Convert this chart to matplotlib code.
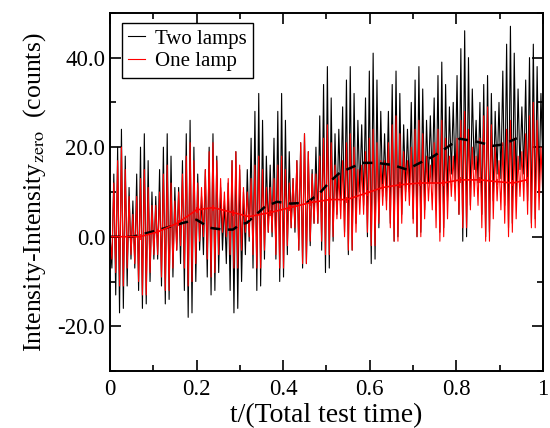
import matplotlib
matplotlib.use('Agg')
import matplotlib.pyplot as plt
from matplotlib.ticker import MultipleLocator, FuncFormatter
import numpy as np

plt.rcParams['font.family'] = ['Liberation Serif', 'DejaVu Serif']
plt.rcParams['mathtext.fontset'] = 'stix'

# raw signal, two lamps (one row per beat group)
two_lamps = [
    0, -7, 14, -13, 20, -17, 24, -16, 18, -11, 11, -5,
    8, -7, 14, -12, 20, -16, 23, -15, 17, -10, 10, -5,
    9, -5, 15, -11, 20, -15, 23, -14, 18, -9, 11, -3,
    11, -6, 17, -12, 23, -18, 26, -17, 20, -10, 14, -3,
    9, -4, 15, -9, 20, -13, 23, -12, 18, -8, 11, -3,
    8, -6, 12, -12, 17, -17, 19, -16, 15, -10, 10, -4,
    15, -1, 22, -7, 28, -12, 32, -11, 26, -5, 18, 1,
    16, 0, 22, -5, 28, -10, 32, -9, 26, -4, 19, 2,
    13, 1, 17, -3, 21, -7, 23, -6, 19, -2, 15, 3,
    20, 3, 27, -3, 34, -8, 38, -7, 31, -1, 23, 5,
    24, 8, 29, 1, 35, -4, 38, -3, 32, 3, 26, 10,
    25, 7, 31, 0, 37, -6, 41, -5, 35, 2, 28, 9,
    23, 8, 28, 3, 34, -1, 37, 0, 32, 5, 25, 10,
    24, 10, 30, 4, 35, 0, 38, 1, 33, 6, 26, 12,
    27, 12, 31, 6, 36, 1, 39, 2, 34, 8, 29, 14,
    30, 12, 36, 5, 42, -1, 46, 0, 40, 7, 33, 15,
    26, 12, 30, 5, 34, 0, 36, 1, 32, 8, 28, 14,
    30, 13, 37, 7, 43, 2, 47, 3, 41, 9, 33, 15,
    29, 14, 35, 8, 40, 3, 43, 4, 38, 10, 32, 16,
]

# raw signal, one lamp
one_lamp = [
    0, -5, 12, -8, 17, -11, 20, -11, 15, -7, 9, -4,
    5, -6, 9, -10, 13, -13, 15, -13, 11, -8, 7, -4,
    7, -4, 10, -9, 14, -12, 16, -12, 12, -7, 8, -3,
    10, -2, 14, -7, 18, -11, 21, -10, 17, -6, 12, -1,
    11, 0, 15, -5, 19, -9, 21, -8, 17, -4, 13, 1,
    10, 0, 13, -4, 17, -7, 19, -7, 16, -3, 11, 1,
    10, 0, 13, -4, 16, -7, 18, -7, 15, -3, 11, 1,
    11, 1, 13, -4, 16, -7, 18, -7, 15, -2, 12, 2,
    13, 2, 17, -3, 21, -6, 23, -6, 19, -1, 14, 3,
    14, 3, 18, -1, 22, -4, 25, -4, 21, 0, 16, 4,
    14, 4, 17, 0, 21, -3, 23, -3, 20, 1, 15, 5,
    16, 5, 19, 1, 22, -2, 24, -2, 21, 3, 17, 7,
    17, 6, 21, 2, 25, -1, 27, -1, 23, 3, 19, 8,
    17, 7, 20, 3, 24, 0, 26, 0, 23, 4, 18, 8,
    16, 6, 21, 2, 24, -1, 26, 0, 22, 4, 18, 9,
    18, 8, 22, 5, 26, 2, 28, 2, 24, 6, 20, 9,
    18, 7, 22, 2, 27, -1, 29, -1, 25, 4, 20, 8,
    17, 6, 21, 3, 24, 0, 26, 1, 22, 4, 18, 9,
    19, 8, 23, 5, 27, 2, 30, 2, 26, 6, 20, 9,
]

# running averages
avg_two_t = [0.0, 0.053, 0.115, 0.169, 0.2, 0.23, 0.26, 0.284, 0.3, 0.316,
             0.358, 0.386, 0.416, 0.455, 0.485, 0.508, 0.531, 0.561, 0.584,
             0.617, 0.654, 0.686, 0.716, 0.746, 0.778, 0.808, 0.848, 0.885,
             0.908, 0.94]
avg_two = [0, 0, 1.6, 3.1, 3.8, 2, 1.6, 1.6, 2.7, 3.1,
           6.7, 7.8, 7.4, 7.6, 9.8, 12.3, 14.3, 15.6, 16.5,
           16.5, 16, 15, 16.5, 17.9, 19.9, 21.9, 21.2, 20.3,
           20.6, 22]

avg_one_t = [0.0, 0.069, 0.111, 0.157, 0.2, 0.238, 0.284, 0.321, 0.37, 0.416,
             0.462, 0.508, 0.547, 0.594, 0.63, 0.67, 0.716, 0.769, 0.808,
             0.855, 0.894, 0.931, 0.963]
avg_one = [0, 0, 1.1, 3.1, 6, 6.5, 5.4, 4.5, 5.4, 6.5,
           7.6, 8.3, 8.3, 9.8, 11, 11.6, 12, 12, 12.7,
           12.7, 12.3, 12, 12.7]

t = np.linspace(0, 1, len(two_lamps))

fig, ax = plt.subplots(figsize=(5.5, 4.28), dpi=100)
fig.subplots_adjust(left=0.2, right=0.987, bottom=0.133, top=0.97)

ax.plot(t, two_lamps, color='black', lw=0.8, label='Two lamps')
ax.plot(t, one_lamp, color='red', lw=0.8, label='One lamp')
ax.plot(avg_two_t, avg_two, color='black', lw=1.8, ls=(0, (4, 3)))
ax.plot(avg_one_t, avg_one, color='red', lw=1.2, marker='|', ms=5, mew=1.2)

ax.set_xlim(0, 1)
ax.set_ylim(-30, 50)
ax.xaxis.set_major_locator(MultipleLocator(0.2))
ax.xaxis.set_minor_locator(MultipleLocator(0.1))
ax.yaxis.set_major_locator(MultipleLocator(20))
ax.yaxis.set_minor_locator(MultipleLocator(10))
ax.xaxis.set_major_formatter(FuncFormatter(lambda v, p: '%g' % round(v, 2)))
ax.yaxis.set_major_formatter(FuncFormatter(lambda v, p: '%.1f' % v))
ax.tick_params(which='both', direction='in', top=True, right=True,
               labelsize=16.5, width=1.2)
ax.tick_params(which='major', length=8)
ax.tick_params(which='minor', length=4)
ax.tick_params(axis='x', pad=6)
for s in ax.spines.values():
    s.set_linewidth(1.4)

ax.set_xlabel('t/(Total test time)', fontsize=20, labelpad=2)
ax.set_ylabel(r'Intensity-Intensity$_{\mathrm{zero}}$  (counts)', fontsize=18.5,
              labelpad=7)

leg = ax.legend(loc='upper left', fontsize=15, handlelength=0.8,
                handletextpad=0.5, borderpad=0.3, labelspacing=0.15,
                fancybox=False, framealpha=1, edgecolor='black',
                bbox_to_anchor=(0.028, 0.972), borderaxespad=0)
leg.get_frame().set_linewidth(1.0)

plt.savefig('out.png')
